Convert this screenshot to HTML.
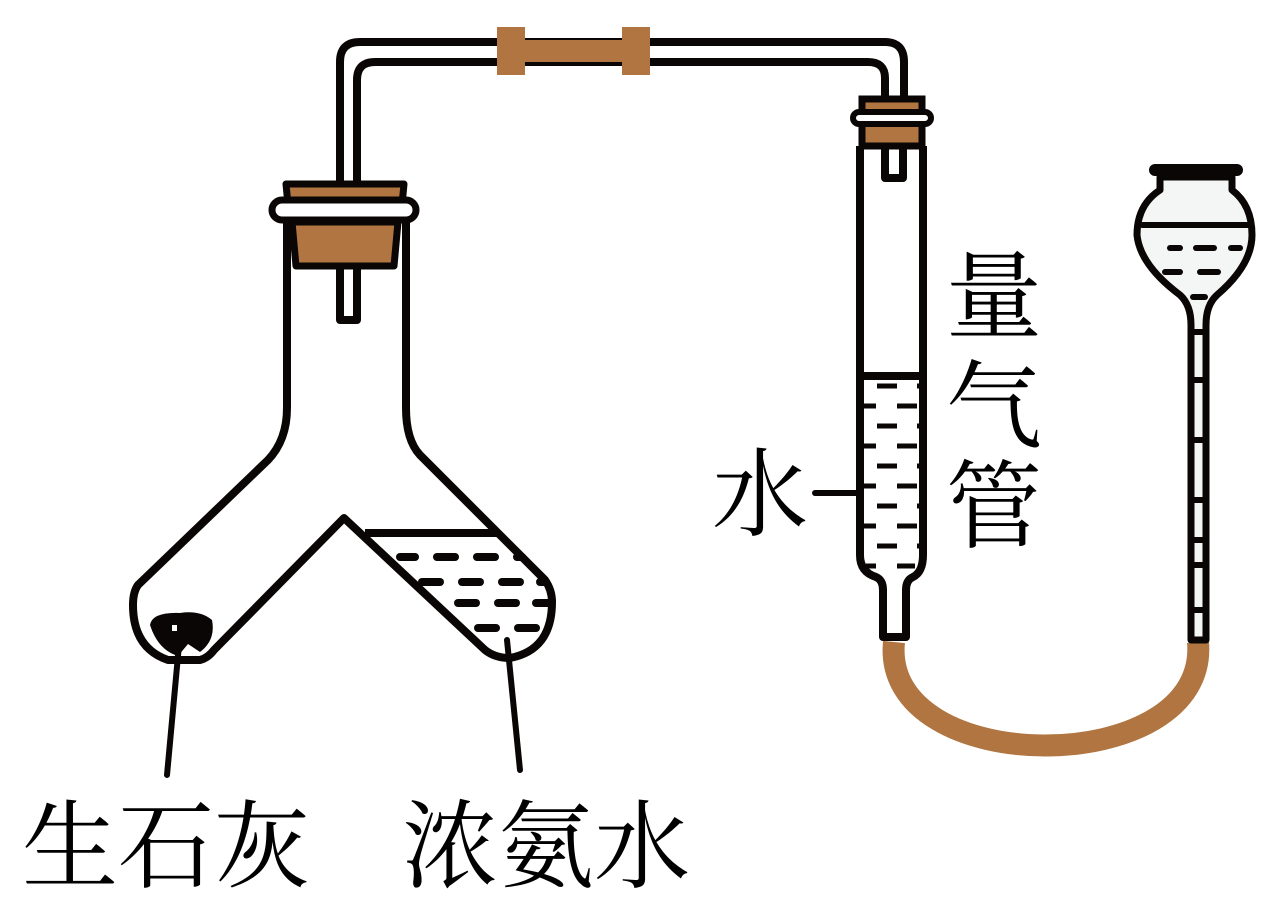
<!DOCTYPE html>
<html><head><meta charset="utf-8"><style>
html,body{margin:0;padding:0;background:#fff}
svg{display:block}
text{font-family:"Liberation Serif","Noto Serif CJK SC",serif;fill:#000}
</style></head><body>
<svg width="1280" height="910" viewBox="0 0 1280 910" xmlns="http://www.w3.org/2000/svg">
<g fill="none" stroke="#0a0605" stroke-width="8" stroke-linecap="round" stroke-linejoin="round">
<path d="M340,205 V62 Q340,42 360,42 H885 Q904,42 904,62 V100"/>
<path d="M357,205 V80 Q357,62 375,62 H868 Q885,62 885,78 V100"/>
<path d="M340,222 V320 H357 V222" fill="#fff"/>
<path d="M287,215 V408 Q287,440 268,460 L138,585 Q133,592 133,605 Q133,648 168,660 L200,660 Q208,658 214,650 L344,518 L485,650 Q495,658 510,658 Q552,650 552,602 Q552,590 545,580 L420,455 Q406,440 406,408 V215"/>
</g>
<line x1="365" y1="533" x2="497" y2="533" stroke="#0a0605" stroke-width="8"/>
<g stroke="#0a0605" stroke-width="8" stroke-linecap="round">
<line x1="400" y1="557" x2="415" y2="557"/><line x1="437" y1="557" x2="455" y2="557"/><line x1="477" y1="557" x2="495" y2="557"/><line x1="517" y1="557" x2="522" y2="557"/>
<line x1="422" y1="582" x2="440" y2="582"/><line x1="462" y1="582" x2="480" y2="582"/><line x1="502" y1="582" x2="520" y2="582"/><line x1="540" y1="582" x2="545" y2="582"/>
<line x1="458" y1="603" x2="476" y2="603"/><line x1="498" y1="603" x2="516" y2="603"/><line x1="536" y1="603" x2="550" y2="603"/>
<line x1="478" y1="628" x2="496" y2="628"/><line x1="518" y1="628" x2="536" y2="628"/>
</g>
<path d="M150,625 Q152,612 180,613 Q200,610 212,620 Q216,640 200,652 L188,644 L178,656 Q158,650 150,625Z" fill="#0a0605"/>
<rect x="172" y="625" width="5" height="6" fill="#fff"/>
<g stroke="#0a0605" stroke-width="6" stroke-linecap="round">
<line x1="179" y1="645" x2="167" y2="775"/>
<line x1="507" y1="640" x2="520" y2="770"/>
<line x1="815" y1="493" x2="882" y2="493"/>
</g>
<path d="M286,184 H404 L402,205 H288Z" fill="#b07540" stroke="#0a0605" stroke-width="7" stroke-linejoin="round"/>
<path d="M292,222 H398 L394,266 H296Z" fill="#b07540" stroke="#0a0605" stroke-width="7" stroke-linejoin="round"/>
<rect x="272" y="200" width="144" height="20" rx="10" fill="#fff" stroke="#0a0605" stroke-width="7"/>
<g fill="#b07540"><rect x="497" y="27" width="28" height="48"/><rect x="525" y="40" width="97" height="22"/><rect x="622" y="27" width="28" height="48"/></g>
<g fill="none" stroke="#0a0605" stroke-width="8" stroke-linejoin="round">
<path d="M860,146 V555 Q860,572 876,577 Q883,580 883,590 V637 H906 V590 Q906,580 913,577 Q923,572 923,555 V146" fill="#fff"/>
<path d="M885,146 V178 H903 V146" fill="#fff"/>
<line x1="860" y1="376" x2="923" y2="376"/>
</g>
<rect x="862" y="99" width="60" height="47" fill="#b07540" stroke="#0a0605" stroke-width="7"/>
<rect x="853" y="112" width="78" height="12" rx="6" fill="#fff" stroke="#0a0605" stroke-width="6"/>
<g stroke="#0a0605" stroke-width="5">
<line x1="877" y1="386" x2="897" y2="386"/><line x1="917" y1="386" x2="921" y2="386"/>
<line x1="862" y1="406" x2="876" y2="406"/><line x1="897" y1="406" x2="917" y2="406"/>
<line x1="877" y1="426" x2="897" y2="426"/><line x1="917" y1="426" x2="921" y2="426"/>
<line x1="862" y1="446" x2="876" y2="446"/><line x1="897" y1="446" x2="917" y2="446"/>
<line x1="877" y1="466" x2="897" y2="466"/><line x1="917" y1="466" x2="921" y2="466"/>
<line x1="862" y1="486" x2="876" y2="486"/><line x1="897" y1="486" x2="917" y2="486"/>
<line x1="877" y1="506" x2="897" y2="506"/><line x1="917" y1="506" x2="921" y2="506"/>
<line x1="862" y1="526" x2="876" y2="526"/><line x1="897" y1="526" x2="917" y2="526"/>
<line x1="877" y1="546" x2="897" y2="546"/><line x1="917" y1="546" x2="921" y2="546"/>
<line x1="866" y1="566" x2="876" y2="566"/><line x1="897" y1="566" x2="915" y2="566"/>
</g>
<path d="M894,642 C880,780 1210,780 1198,642" fill="none" stroke="#b07540" stroke-width="22"/>
<path d="M1160,177 V190 Q1137,205 1137,235 Q1140,265 1180,295 Q1191,305 1191,325 V640 H1206 V325 Q1206,305 1217,295 Q1252,265 1252,235 Q1252,205 1232,190 V177Z" fill="#f4f5f5" stroke="#0a0605" stroke-width="7" stroke-linejoin="round"/>
<line x1="1155" y1="170" x2="1237" y2="170" stroke="#0a0605" stroke-width="12" stroke-linecap="round"/>
<g stroke="#0a0605" stroke-width="6" stroke-linecap="round">
<line x1="1142" y1="225" x2="1248" y2="225"/>
<line x1="1170" y1="248" x2="1180" y2="248"/><line x1="1196" y1="248" x2="1214" y2="248"/><line x1="1231" y1="248" x2="1240" y2="248"/>
<line x1="1165" y1="272" x2="1180" y2="272"/><line x1="1200" y1="272" x2="1218" y2="272"/>
<line x1="1193" y1="297" x2="1205" y2="297"/>
<line x1="1193" y1="332" x2="1204" y2="332"/><line x1="1193" y1="380" x2="1204" y2="380"/><line x1="1193" y1="440" x2="1204" y2="440"/>
<line x1="1193" y1="500" x2="1204" y2="500"/><line x1="1193" y1="540" x2="1204" y2="540"/><line x1="1193" y1="565" x2="1204" y2="565"/><line x1="1193" y1="610" x2="1204" y2="610"/>
</g>
<g font-size="96">
<text x="946" y="330">量</text>
<text x="946" y="440">气</text>
<text x="946" y="540">管</text>
<text x="712" y="528">水</text>
<text x="22" y="880">生石灰</text>
<text x="402" y="880">浓氨水</text>
</g>
</svg>
</body></html>
